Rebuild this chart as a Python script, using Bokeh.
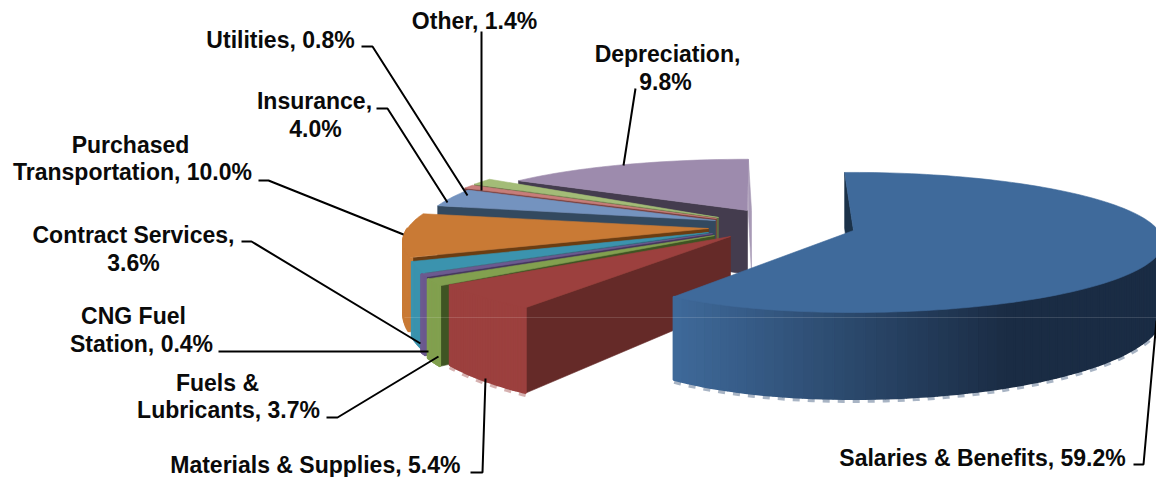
import numpy as np
from bokeh.plotting import figure
from bokeh.models import Range1d
from bokeh.core.properties import value
from bokeh.embed import file_html
from bokeh.resources import INLINE

# Operating expense shares, percent
CATEGORIES = ["Salaries & Benefits", "Materials & Supplies", "Fuels & Lubricants", "CNG Fuel Station",
              "Contract Services", "Purchased Transportation", "Insurance", "Utilities", "Other", "Depreciation"]
SHARES = [59.2, 5.4, 3.7, 0.4, 3.6, 10.0, 4.0, 0.8, 1.4, 9.8]
LABEL_LINES = [["Salaries & Benefits, {}%"], ["Materials & Supplies,  {}%"], ["Fuels &", "Lubricants, {}%"],
               ["CNG Fuel", "Station, {}%"], ["Contract Services,", "{}%"], ["Purchased", "Transportation, {}%"],
               ["Insurance,", "{}%"], ["Utilities, {}%"], ["Other, {}%"], ["Depreciation,", "{}%"]]

# Colours per slice: top and rim face, cut wall
TOP_COLORS = ["#3f6a9b", "#9c403e", "#82a04f", "#6c5a8f", "#3b93ae", "#c97a35", "#7493bf", "#c77d7a", "#a3bc77", "#9d8bad"]
WALL_COLORS = ["#1b3249", "#652a28", "#3f5423", "#46365e", "#26677a", "#6b3d12", "#33495f", "#7a3f3d", "#5f6f3f", "#443c4e"]

# Layout of the projected pie, in page pixels
APEX_X = [853, 730, 714, 712, 708, 708, 715, 716, 718, 747]
APEX_Y = [230, 236, 235, 233, 232, 228, 220, 218, 217, 210]
RADIUS_X = [300, 312, 305, 305, 298, 301, 293, 298, 298, 298]
RADIUS_Y = [68, 74, 77, 77, 77, 77, 77, 77, 77, 60]
WALL_INSET = [0, 0, 0, 0, 3, 4, 0, 0, 0, 0]
PERSPECTIVE = 0.171
START_ANGLE = -1.5
# View foreshortening of the clockwise angle on the far left of the pie
WARP_AT = [0, 215, 235, 248.6, 250.1, 263.3, 300, 322, 345, 360]
WARP_BY = [0, 1, 1, 9.6, 9, 14, 18.5, 20, 10, -3]

# Label placement: centre x and centre y of each text line
LABEL_X = [[982], [318], [217, 228], [133, 141], [133, 133], [130, 132], [314, 315], [280], [474], [667, 665]]
LABEL_Y = [[457], [464], [382, 409], [315, 343], [234, 262], [144, 171], [100, 128], [39], [20], [53, 81]]
# Leader lines from label to slice
LEADER_X = [[1133, 1143, 1156], [470, 482, 485], [326, 337, 438], [218, 428], [241, 251, 420],
            [258, 268, 403], [376, 387, 447], [361, 372, 467], [481, 481], [635, 623]]
LEADER_Y = [[464, 464, 320], [472, 472, 378], [417, 417, 356], [351, 351], [241, 241, 343],
            [180, 180, 234], [108, 108, 202], [46, 46, 195], [31, 190], [88, 165]]


def depth(y):
    """Extrusion height grows toward the viewer."""
    return 64 + 0.22 * (np.asarray(y, dtype=float) - 210)


def project(i, angle):
    """Clockwise pie angle in degrees to page position for slice i."""
    warped = angle - np.interp(np.mod(angle, 360), WARP_AT, WARP_BY) if i else angle
    t = np.radians(warped)
    u, v = np.sin(t), -np.cos(t)
    w = 1 - PERSPECTIVE * v
    radius_x = np.where(u < 0, RADIUS_X[i] + 35 * u, RADIUS_X[i] + 5 * u) if i == 0 else RADIUS_X[i]
    return APEX_X[i] + radius_x * u / w, APEX_Y[i] + RADIUS_Y[i] * v / w, v


def blend(c1, c2, f):
    a = [int(c1[k:k + 2], 16) for k in (1, 3, 5)]
    b = [int(c2[k:k + 2], 16) for k in (1, 3, 5)]
    return "#%02x%02x%02x" % tuple(int(round(x + (y - x) * f)) for x, y in zip(a, b))


p = figure(width=1156, height=477, output_backend="svg", toolbar_location=None,
           x_range=Range1d(0, 1156), y_range=Range1d(477, 0), min_border=0)
p.axis.visible = False
p.grid.visible = False
p.outline_line_color = None
p.background_fill_color = "white"


def face(xs, ys, color, width=0.6):
    p.patch(list(xs), list(ys), fill_color=color, line_color=color, line_width=width)


edges = START_ANGLE + np.concatenate([[0], np.cumsum(SHARES)]) / sum(SHARES) * 360

# Back-to-front: the far slices first, the large front slice last
for i in list(range(9, -1, -1)):
    a0, a1 = edges[i], edges[i + 1]
    if i == 0:
        a0 -= 0.5
        a1 -= 2
    angles = np.linspace(a0, a1, 130 if i == 0 else 30)
    rx, ry, rv = project(i, angles)
    ax, ay = APEX_X[i], APEX_Y[i]
    sx, sy = rx[0], ry[0]

    # far end wall of the last slice
    if i == 9:
        ex, ey = rx[-1], ry[-1]
        face([ex, ax + 4, ax + 4, ex], [ey, ay, ay + depth(ay), ey + depth(ey)], "#a89ab6")

    # cut wall under the leading edge
    wall_x = sx + WALL_INSET[i]
    face([wall_x, ax, ax, wall_x], [sy, ay, ay + depth(ay), sy + depth(sy)], WALL_COLORS[i])

    # rim face, only where it turns toward the viewer, swept one segment at a time
    front = rv > -0.02
    if front.any():
        fx, fy = rx[front], ry[front]
        fb = fy + depth(fy)
        if i in (0, 1):
            # pale reflection along the lower rim
            pale = "#a8b4c4" if i == 0 else "#d6b1b0"
            p.line(list(fx), list(fb + 2), line_color=pale, line_width=4, line_dash="7 8")
        if WALL_INSET[i]:
            face([fx[0], wall_x, wall_x, fx[0]], [fy[0], fy[0], fb[0], fb[0]], TOP_COLORS[i])
        for k in range(len(fx) - 1):
            if i == 0:
                # shading runs darker toward the right along the rim
                f = min(1.0, max(0.0, (fx[k] - fx[-1]) / (1010 - fx[-1])))
                c = blend("#3f6a9b", "#1a2c44", f)
            else:
                c = TOP_COLORS[i]
            face([fx[k], fx[k + 1], fx[k + 1], fx[k]], [fy[k], fy[k + 1], fb[k + 1], fb[k]], c, 2)

    # top face
    face(np.r_[ax, rx], np.r_[ay, ry], TOP_COLORS[i])

# faint scan seam across the solid
p.line([404, 1156], [317, 317], line_color="white", line_alpha=0.14, line_width=1)

for xs, ys in zip(LEADER_X, LEADER_Y):
    p.line(xs, ys, line_color="black", line_width=2)

for cx, cy, lines, share in zip(LABEL_X, LABEL_Y, LABEL_LINES, SHARES):
    for x, y, line in zip(cx, cy, lines):
        p.text([x], [y], text=[line.format(f"{share:.1f}")], text_font=value("Liberation Sans"),
               text_font_style="bold", text_font_size="23px", text_color="#0a0a0a",
               text_align="center", text_baseline="middle")

open("out.html", "w").write(file_html(p, INLINE))
